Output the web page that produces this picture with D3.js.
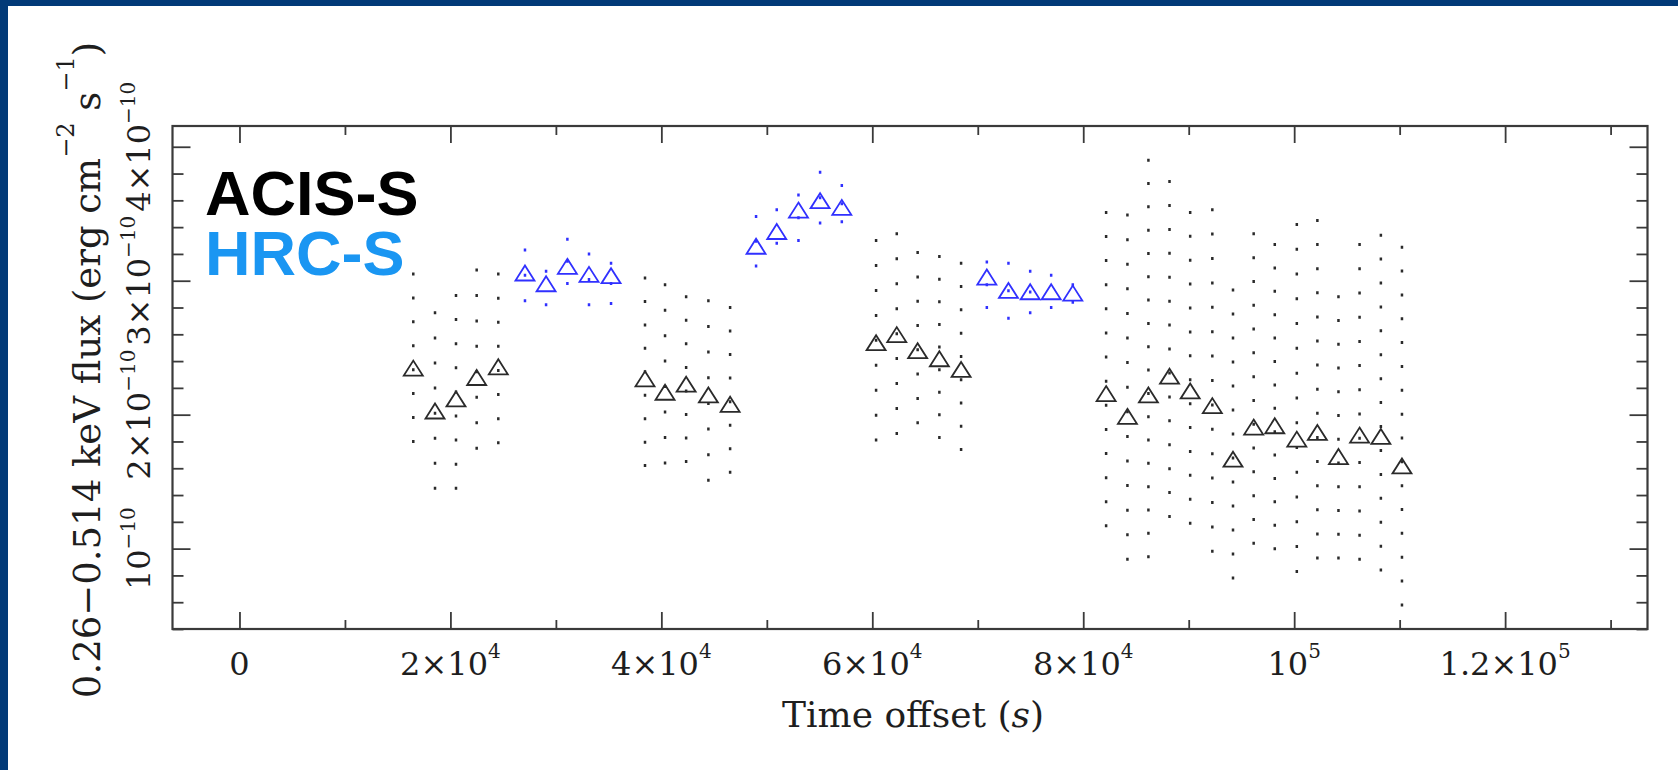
<!DOCTYPE html>
<html>
<head>
<meta charset="utf-8">
<script src="https://cdn.jsdelivr.net/npm/d3@7"></script>
<style>
  html, body { margin: 0; padding: 0; background: #fff; }
  svg { display: block; }
</style>
</head>
<body>
<svg id="chart" width="1678" height="770"></svg>
<script>
// ---- Data (flux in units of 1e-10 erg cm^-2 s^-1, time offset in s) ----
const acisTime = [16480, 18540, 20530, 22490, 24540,
                  38450, 40350, 42350, 44460, 46520,
                  60360, 62320, 64300, 66360, 68420,
                  82170, 84190, 86180, 88180, 90140, 92240, 94200, 96160, 98160,
                  100250, 102200, 104200, 106200, 108220, 110220];
const acisFlux = [2.34, 2.02, 2.11, 2.27, 2.35,
                  2.26, 2.16, 2.22, 2.14, 2.07,
                  2.53, 2.59, 2.47, 2.41, 2.33,
                  2.15, 1.98, 2.14, 2.28, 2.17, 2.06, 1.66, 1.90, 1.91,
                  1.81, 1.86, 1.68, 1.84, 1.83, 1.61];
const acisHi   = [3.05, 2.76, 2.89, 3.08, 3.05,
                  3.02, 2.97, 2.88, 2.85, 2.80,
                  3.30, 3.35, 3.21, 3.18, 3.13,
                  3.51, 3.49, 3.90, 3.74, 3.51, 3.53, 2.93, 3.35, 3.27,
                  3.42, 3.45, 2.88, 3.27, 3.34, 3.25];
const acisLo   = [1.80, 1.45, 1.45, 1.75, 1.79,
                  1.62, 1.64, 1.65, 1.51, 1.57,
                  1.81, 1.86, 1.94, 1.83, 1.74,
                  1.17, 0.92, 0.94, 1.24, 1.19, 0.98, 0.78, 1.04, 1.00,
                  0.83, 0.93, 0.93, 0.92, 0.84, 0.58];

const hrcTime = [27070, 29070, 31090, 33140, 35230,
                 48980, 50940, 53000, 55050, 57110,
                 70860, 72910, 74970, 76960, 79010];
const hrcFlux = [3.05, 2.97, 3.10, 3.04, 3.03,
                 3.25, 3.36, 3.52, 3.59, 3.54,
                 3.02, 2.92, 2.91, 2.91, 2.90];
const hrcHi   = [3.23, 3.07, 3.31, 3.20, 3.13,
                 3.48, 3.53, 3.64, 3.81, 3.71,
                 3.14, 3.13, 3.07, 3.04, 2.97];
const hrcLo   = [2.85, 2.82, 2.98, 2.82, 2.83,
                 3.11, 3.28, 3.30, 3.43, 3.44,
                 2.80, 2.72, 2.76, 2.80, 2.84];

const xMajorTicks = [0, 20000, 40000, 60000, 80000, 100000, 120000];
const xMinorTicks = [10000, 30000, 50000, 70000, 90000, 110000, 130000];
const xTickMantissa = ["0", "2×10", "4×10", "6×10", "8×10", "10", "1.2×10"];
const xTickExp = ["", "4", "4", "4", "4", "5", "5"];

const yMajorTicks = [1, 2, 3, 4];
const yMinorTicks = [0.4, 0.6, 0.8, 1.2, 1.4, 1.6, 1.8, 2.2, 2.4, 2.6, 2.8, 3.2, 3.4, 3.6, 3.8];
const yTickMantissa = ["10", "2×10", "3×10", "4×10"];
const yTickExp = ["−10", "−10", "−10", "−10"];

const seriesNames = ["ACIS-S", "HRC-S"];

// ---- Layout ----
const W = 1678, H = 770;
const plot = {left: 172.5, right: 1647.5, top: 126, bottom: 629};
const navy = "#023a78";
const axisColor = "#3a3a3a";
const acisColor = "#2a2a2a";
const hrcColor = "#3030ff";

const x = d3.scaleLinear().domain([-6350, 133500]).range([plot.left, plot.right]);
const y = d3.scaleLinear().domain([0.4, 4.155]).range([plot.bottom, plot.top]);

const svg = d3.select("#chart");
svg.append("rect").attr("width", W).attr("height", H).attr("fill", "#fff");
svg.append("rect").attr("x", 0).attr("y", 0).attr("width", W).attr("height", 6).attr("fill", navy);
svg.append("rect").attr("x", 0).attr("y", 0).attr("width", 8).attr("height", H).attr("fill", navy);

// ---- Axes (ticks inward) ----
function styleAxis(g) {
  g.select(".domain").remove();
  g.selectAll(".tick line").attr("stroke", axisColor).attr("stroke-width", 1.8);
  g.selectAll(".tick text").remove();
}
svg.append("g").attr("transform", `translate(0,${plot.bottom})`)
  .call(d3.axisBottom(x).tickValues(xMajorTicks).tickSize(-17).tickFormat("")).call(styleAxis);
svg.append("g").attr("transform", `translate(0,${plot.bottom})`)
  .call(d3.axisBottom(x).tickValues(xMinorTicks).tickSize(-9).tickFormat("")).call(styleAxis);
svg.append("g").attr("transform", `translate(0,${plot.top})`)
  .call(d3.axisTop(x).tickValues(xMajorTicks).tickSize(-17).tickFormat("")).call(styleAxis);
svg.append("g").attr("transform", `translate(0,${plot.top})`)
  .call(d3.axisTop(x).tickValues(xMinorTicks).tickSize(-9).tickFormat("")).call(styleAxis);
svg.append("g").attr("transform", `translate(${plot.left},0)`)
  .call(d3.axisLeft(y).tickValues(yMajorTicks).tickSize(-18).tickFormat("")).call(styleAxis);
svg.append("g").attr("transform", `translate(${plot.left},0)`)
  .call(d3.axisLeft(y).tickValues(yMinorTicks).tickSize(-11).tickFormat("")).call(styleAxis);
svg.append("g").attr("transform", `translate(${plot.right},0)`)
  .call(d3.axisRight(y).tickValues(yMajorTicks).tickSize(-18).tickFormat("")).call(styleAxis);
svg.append("g").attr("transform", `translate(${plot.right},0)`)
  .call(d3.axisRight(y).tickValues(yMinorTicks).tickSize(-11).tickFormat("")).call(styleAxis);

svg.append("rect")
  .attr("x", plot.left).attr("y", plot.top)
  .attr("width", plot.right - plot.left).attr("height", plot.bottom - plot.top)
  .attr("fill", "none").attr("stroke", axisColor).attr("stroke-width", 2.2);

// ---- Tick labels ----
const tickFont = "'DejaVu Serif', serif";
xMajorTicks.forEach((v, i) => {
  const t = svg.append("text")
    .attr("x", x(v)).attr("y", 675)
    .attr("text-anchor", "middle")
    .attr("font-family", tickFont).attr("font-size", 32).attr("fill", "#1e1e1e");
  t.append("tspan").text(xTickMantissa[i]);
  if (xTickExp[i]) t.append("tspan").attr("dy", -17).attr("font-size", 20).text(xTickExp[i]);
});
yMajorTicks.forEach((v, i) => {
  const t = svg.append("text")
    .attr("transform", `translate(150,${y(v)}) rotate(-90)`)
    .attr("text-anchor", "middle")
    .attr("font-family", tickFont).attr("font-size", 32).attr("fill", "#1e1e1e");
  t.append("tspan").text(yTickMantissa[i]);
  t.append("tspan").attr("dy", -15).attr("font-size", 20).text(yTickExp[i]);
});

// ---- Axis titles ----
const xt = svg.append("text")
  .attr("x", (plot.left + plot.right) / 2 + 3).attr("y", 727)
  .attr("text-anchor", "middle")
  .attr("font-family", tickFont).attr("font-size", 36).attr("fill", "#1e1e1e");
xt.append("tspan").text("Time offset (");
xt.append("tspan").attr("font-style", "italic").text("s");
xt.append("tspan").text(")");

const yt = svg.append("text")
  .attr("transform", `translate(100,370) rotate(-90)`)
  .attr("text-anchor", "middle")
  .attr("font-family", tickFont).attr("font-size", 37).attr("fill", "#1e1e1e");
yt.append("tspan").text("0.26−0.514 keV flux (erg cm");
yt.append("tspan").attr("dy", -26).attr("font-size", 24).text("−2");
yt.append("tspan").attr("dy", 26).text(" s");
yt.append("tspan").attr("dy", -26).attr("font-size", 24).text("−1");
yt.append("tspan").attr("dy", 26).text(")");

// ---- Error bars (dotted) and triangle markers ----
function drawSeries(times, flux, lo, hi, color) {
  const g = svg.append("g");
  times.forEach((t, i) => {
    const yTop = y(hi[i]), yBot = y(lo[i]);
    const len = yBot - yTop;
    const n = Math.max(1, Math.round(len / 24));
    const p = len / n;
    g.append("line")
      .attr("x1", x(t)).attr("x2", x(t))
      .attr("y1", yTop - 1.5).attr("y2", yBot + 1.5)
      .attr("stroke", color).attr("stroke-width", 2.5)
      .attr("stroke-dasharray", `3 ${p - 3}`);
  });
  g.selectAll("path.tri").data(times).enter().append("path")
    .attr("class", "tri")
    .attr("transform", (t, i) => `translate(${x(t)},${y(flux[i])})`)
    .attr("d", "M0,-8.5L9.5,6.5L-9.5,6.5Z")
    .attr("fill", "none").attr("stroke", color).attr("stroke-width", 1.8);
}
drawSeries(acisTime, acisFlux, acisLo, acisHi, acisColor);
drawSeries(hrcTime, hrcFlux, hrcLo, hrcHi, hrcColor);

// ---- Instrument labels (one text block, two lines) ----
const legend = svg.append("text")
  .attr("font-family", "'Liberation Sans', Arial, sans-serif").attr("font-weight", "bold")
  .attr("font-size", 63);
legend.append("tspan").attr("x", 205).attr("y", 215).attr("fill", "#000").text(seriesNames[0]);
legend.append("tspan").attr("x", 205).attr("y", 275).attr("fill", "#1a96f2").text(seriesNames[1]);
</script>
</body>
</html>
